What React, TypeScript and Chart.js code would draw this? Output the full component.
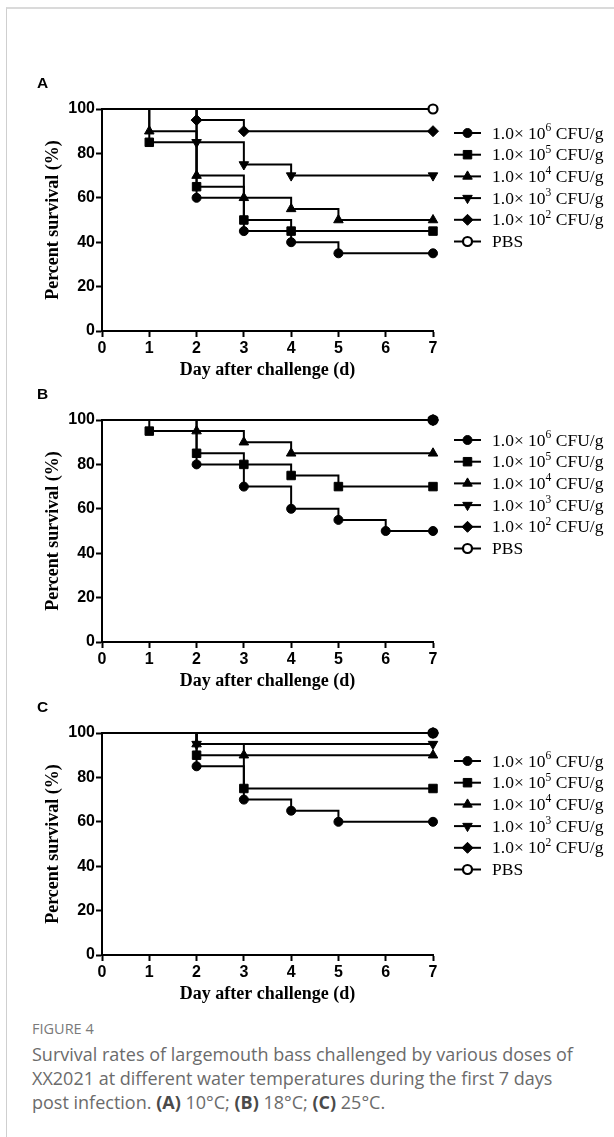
import React, { useEffect, useRef } from 'react';
import { Chart, registerables } from 'chart.js';
import { drawPoint } from 'chart.js/helpers';

Chart.register(...registerables);

// ---------- data ----------
const DAY_TICKS = [0, 1, 2, 3, 4, 5, 6, 7];
const SURVIVAL_TICKS = [0, 20, 40, 60, 80, 100];
const SERIES_EXPONENTS = ['6', '5', '4', '3', '2', ''];
const SERIES_NAMES = ['1.0× 10⁶ CFU/g', '1.0× 10⁵ CFU/g', '1.0× 10⁴ CFU/g', '1.0× 10³ CFU/g', '1.0× 10² CFU/g', 'PBS'];

// Panel A (10°C)
const A_DAYS_1E6 = [0, 2, 3, 4, 5, 7];
const A_SURV_1E6 = [100, 60, 45, 40, 35, 35];
const A_DAYS_1E5 = [0, 1, 2, 3, 4, 7];
const A_SURV_1E5 = [100, 85, 65, 50, 45, 45];
const A_DAYS_1E4 = [0, 1, 2, 3, 4, 5, 7];
const A_SURV_1E4 = [100, 90, 70, 60, 55, 50, 50];
const A_DAYS_1E3 = [0, 2, 3, 4, 7];
const A_SURV_1E3 = [100, 85, 75, 70, 70];
const A_DAYS_1E2 = [0, 2, 3, 7];
const A_SURV_1E2 = [100, 95, 90, 90];
const A_DAYS_PBS = [0, 7];
const A_SURV_PBS = [100, 100];

// Panel B (18°C)
const B_DAYS_1E6 = [0, 2, 3, 4, 5, 6, 7];
const B_SURV_1E6 = [100, 80, 70, 60, 55, 50, 50];
const B_DAYS_1E5 = [0, 1, 2, 3, 4, 5, 7];
const B_SURV_1E5 = [100, 95, 85, 80, 75, 70, 70];
const B_DAYS_1E4 = [0, 2, 3, 4, 7];
const B_SURV_1E4 = [100, 95, 90, 85, 85];
const B_DAYS_1E3 = [0, 7];
const B_SURV_1E3 = [100, 100];
const B_DAYS_1E2 = [0, 7];
const B_SURV_1E2 = [100, 100];
const B_DAYS_PBS = [0, 7];
const B_SURV_PBS = [100, 100];

// Panel C (25°C)
const C_DAYS_1E6 = [0, 2, 3, 4, 5, 7];
const C_SURV_1E6 = [100, 85, 70, 65, 60, 60];
const C_DAYS_1E5 = [0, 2, 3, 7];
const C_SURV_1E5 = [100, 90, 75, 75];
const C_DAYS_1E4 = [0, 2, 3, 7];
const C_SURV_1E4 = [100, 95, 90, 90];
const C_DAYS_1E3 = [0, 2, 7];
const C_SURV_1E3 = [100, 95, 95];
const C_DAYS_1E2 = [0, 7];
const C_SURV_1E2 = [100, 100];
const C_DAYS_PBS = [0, 7];
const C_SURV_PBS = [100, 100];

// ---------- styles ----------
const MARKERS = [
  { style: 'circle', rotation: 0, radius: 4.5, fill: '#000', bw: 1 },
  { style: 'rect', rotation: 0, radius: 6, fill: '#000', bw: 1 },
  { style: 'triangle', rotation: 0, radius: 5.5, fill: '#000', bw: 1 },
  { style: 'triangle', rotation: 180, radius: 5.5, fill: '#000', bw: 1 },
  { style: 'rectRot', rotation: 0, radius: 5.5, fill: '#000', bw: 1 },
  { style: 'circle', rotation: 0, radius: 4.5, fill: '#fff', bw: 2.2 },
];

const TICK_FONT = { family: '"Liberation Sans", Arial, sans-serif', weight: 'bold' as const, size: 16 };
const TITLE_FONT = { family: '"Liberation Serif", "Times New Roman", serif', weight: 'bold' as const, size: 18 };
const LEGEND_FONT = '17.5px "Liberation Serif", "Times New Roman", serif';
const SUP_FONT = '11.5px "Liberation Serif", "Times New Roman", serif';

type PanelSpec = {
  letter: string;
  top: number;
  legendTop: number;
  days: number[][];
  surv: number[][];
};

const PANELS: PanelSpec[] = [
  {
    letter: 'A', top: 71, legendTop: 62,
    days: [A_DAYS_1E6, A_DAYS_1E5, A_DAYS_1E4, A_DAYS_1E3, A_DAYS_1E2, A_DAYS_PBS],
    surv: [A_SURV_1E6, A_SURV_1E5, A_SURV_1E4, A_SURV_1E3, A_SURV_1E2, A_SURV_PBS],
  },
  {
    letter: 'B', top: 382, legendTop: 58,
    days: [B_DAYS_1E6, B_DAYS_1E5, B_DAYS_1E4, B_DAYS_1E3, B_DAYS_1E2, B_DAYS_PBS],
    surv: [B_SURV_1E6, B_SURV_1E5, B_SURV_1E4, B_SURV_1E3, B_SURV_1E2, B_SURV_PBS],
  },
  {
    letter: 'C', top: 695, legendTop: 66,
    days: [C_DAYS_1E6, C_DAYS_1E5, C_DAYS_1E4, C_DAYS_1E3, C_DAYS_1E2, C_DAYS_PBS],
    surv: [C_SURV_1E6, C_SURV_1E5, C_SURV_1E4, C_SURV_1E3, C_SURV_1E2, C_SURV_PBS],
  },
];

const overlayPlugin = {
  id: 'overlay',
  afterDraw(chart: any, _args: any, opts: any) {
    const { ctx } = chart;
    ctx.save();
    ctx.fillStyle = '#000';
    ctx.textAlign = 'left';
    ctx.textBaseline = 'middle';
    ctx.font = 'bold 15.5px "Liberation Sans", Arial, sans-serif';
    ctx.fillText(opts.letter, 37, 13);

    const gap = 21.7;
    chart.data.datasets.forEach((ds: any, i: number) => {
      const y = opts.legendTop + i * gap;
      const m = MARKERS[i];
      ctx.strokeStyle = '#000';
      ctx.lineWidth = 2;
      ctx.beginPath();
      ctx.moveTo(454, y);
      ctx.lineTo(481, y);
      ctx.stroke();
      ctx.fillStyle = m.fill;
      ctx.strokeStyle = '#000';
      ctx.lineWidth = m.bw;
      drawPoint(ctx, { pointStyle: m.style, radius: m.radius, rotation: m.rotation, borderWidth: m.bw } as any, 467.5, y);

      ctx.fillStyle = '#000';
      ctx.textBaseline = 'middle';
      let x = 492;
      const exp = SERIES_EXPONENTS[i];
      ctx.font = LEGEND_FONT;
      if (exp) {
        const base = '1.0× 10';
        ctx.fillText(base, x, y + 1);
        x += ctx.measureText(base).width;
        ctx.font = SUP_FONT;
        ctx.fillText(exp, x, y - 5);
        x += ctx.measureText(exp).width;
        ctx.font = LEGEND_FONT;
        ctx.fillText(' CFU/g', x, y + 1);
      } else {
        ctx.fillText(ds.label, x, y + 1);
      }
    });
    ctx.restore();
  },
};

function Panel({ spec }: { spec: PanelSpec }) {
  const ref = useRef<HTMLCanvasElement | null>(null);
  useEffect(() => {
    if (!ref.current) return;
    const datasets = spec.days.map((d, i) => {
      const m = MARKERS[i];
      return {
        label: SERIES_NAMES[i],
        data: d.map((x, j) => ({ x, y: spec.surv[i][j] })),
        stepped: 'before' as const,
        borderColor: '#000',
        borderWidth: 2,
        fill: false,
        clip: false as any,
        pointStyle: m.style as any,
        pointRotation: m.rotation,
        pointRadius: (c: any) => (c.dataIndex === 0 ? 0 : m.radius),
        pointHoverRadius: 0,
        pointBackgroundColor: m.fill,
        pointBorderColor: '#000',
        pointBorderWidth: m.bw,
      };
    });
    const chart = new Chart(ref.current, {
      type: 'line',
      data: { datasets },
      plugins: [overlayPlugin],
      options: {
        responsive: false,
        animation: false,
        devicePixelRatio: 1,
        layout: { padding: { left: 0, right: 181, top: 38, bottom: 0 } },
        plugins: {
          legend: { display: false },
          tooltip: { enabled: false },
          overlay: { letter: spec.letter, legendTop: spec.legendTop },
        } as any,
        scales: {
          x: {
            type: 'linear',
            min: 0,
            max: 7,
            afterFit: (s: any) => { s.height = 50; },
            afterBuildTicks: (s: any) => { s.ticks = DAY_TICKS.map((v) => ({ value: v })); },
            ticks: { color: '#000', font: TICK_FONT, padding: 2, maxRotation: 0, autoSkip: false },
            grid: { drawOnChartArea: false, drawTicks: true, tickLength: 6, tickColor: '#000', tickWidth: 2, color: '#000' },
            border: { display: true, color: '#000', width: 2 },
            title: { display: true, text: 'Day after challenge (d)', color: '#000', font: TITLE_FONT, padding: { top: 0, bottom: 0 } },
          },
          y: {
            type: 'linear',
            min: 0,
            max: 100,
            afterFit: (s: any) => { s.width = 102; },
            afterBuildTicks: (s: any) => { s.ticks = SURVIVAL_TICKS.map((v) => ({ value: v })); },
            ticks: { color: '#000', font: TICK_FONT, padding: 1 },
            grid: { drawOnChartArea: false, drawTicks: true, tickLength: 6, tickColor: '#000', tickWidth: 2, color: '#000' },
            border: { display: true, color: '#000', width: 2 },
            title: { display: true, text: 'Percent survival (%)', color: '#000', font: TITLE_FONT, padding: { top: 43, bottom: 0 } },
          },
        },
      } as any,
    });
    return () => chart.destroy();
  }, [spec]);
  return (
    <canvas
      ref={ref}
      width={614}
      height={310}
      style={{ position: 'absolute', left: 0, top: spec.top, width: 614, height: 310 }}
    />
  );
}

export default function App() {
  const bold: React.CSSProperties = { fontWeight: 700, color: '#4a4a4a' };
  return (
    <div style={{ position: 'absolute', left: 0, top: 0, width: 614, height: 1137, overflow: 'hidden', background: '#fff' }}>
      <div
        style={{
          position: 'absolute', left: 6, top: 7, width: 700, height: 1200,
          borderTop: '2px solid #dadada', borderLeft: '1px solid #cfcfcf', boxSizing: 'border-box',
        }}
      />
      {PANELS.map((p) => (
        <Panel key={p.letter} spec={p} />
      ))}
      <div
        style={{
          position: 'absolute', left: 32, top: 1019, width: 580,
          fontFamily: '"Open Sans", "Noto Sans", sans-serif', color: '#6b6b6b',
        }}
      >
        <div style={{ fontSize: 14.5, lineHeight: '20px', color: '#7a7a7a', marginBottom: 3 }}>FIGURE 4</div>
        <div style={{ fontSize: 18, lineHeight: '24px', whiteSpace: 'nowrap' }}>
          Survival rates of largemouth bass challenged by various doses of
          <br />
          XX2021 at different water temperatures during the first 7 days
          <br />
          post infection. <span style={bold}>(A)</span> 10°C; <span style={bold}>(B)</span> 18°C; <span style={bold}>(C)</span> 25°C.
        </div>
      </div>
    </div>
  );
}
